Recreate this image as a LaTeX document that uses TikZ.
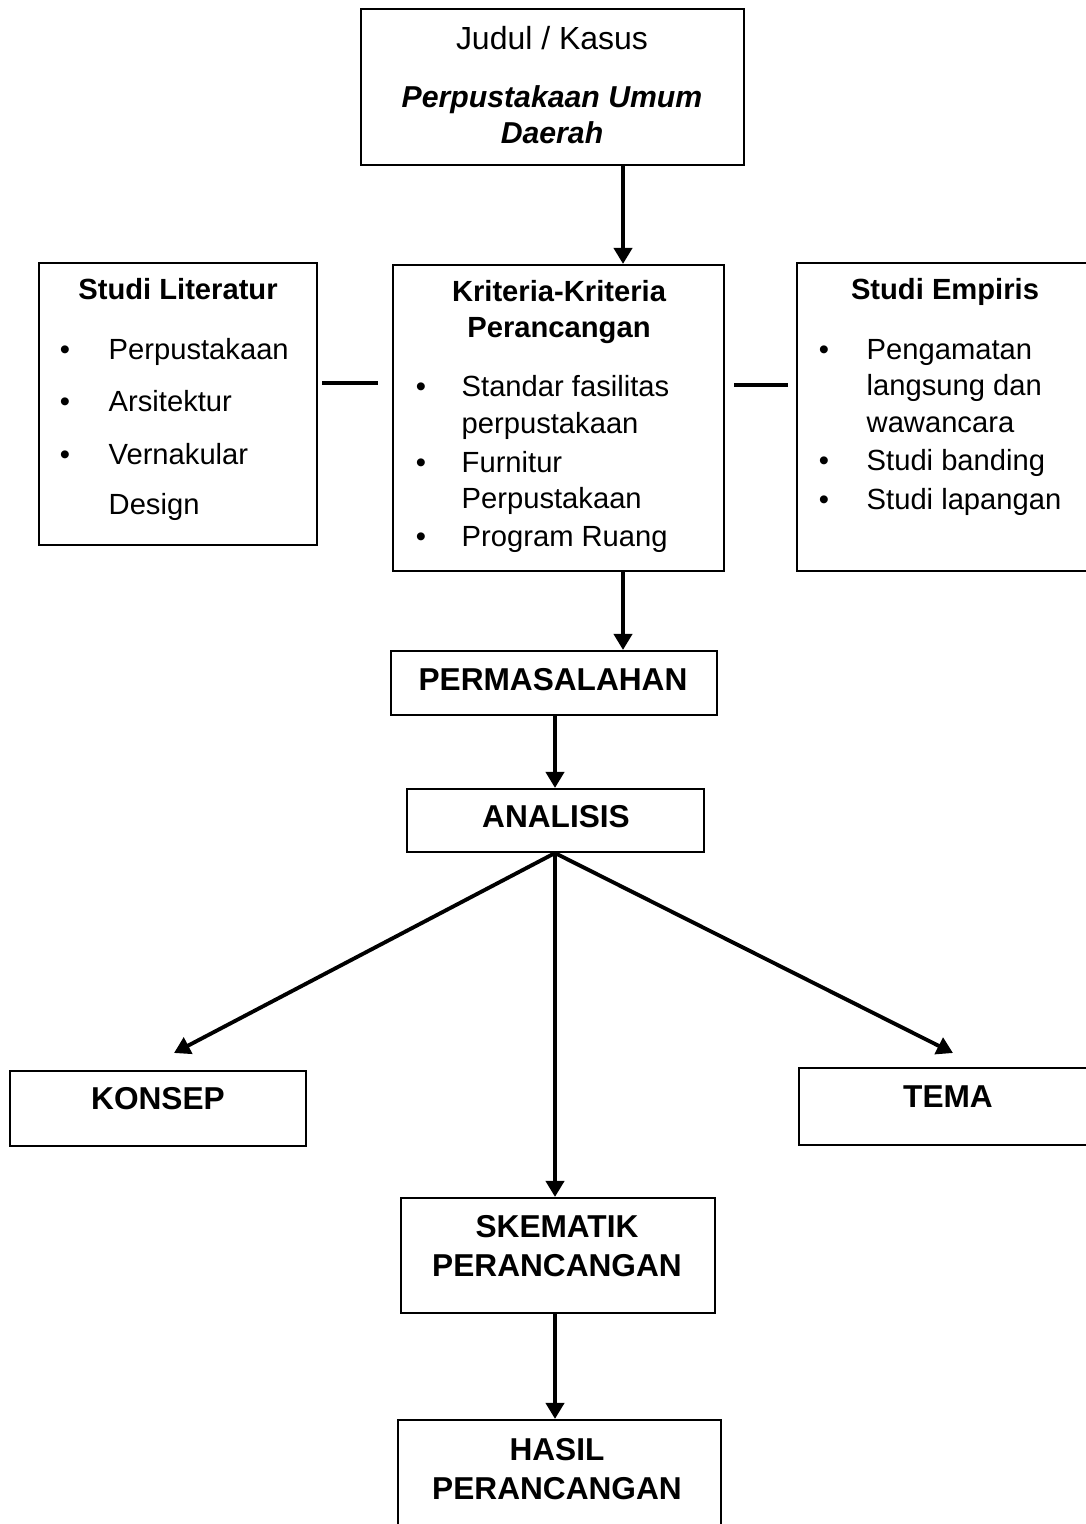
\documentclass[tikz,border=0pt]{standalone}
\usepackage{fontspec}
\setmainfont{Liberation Sans}
\usetikzlibrary{arrows.meta,calc}

\tikzset{
	kotak/.style={draw=black, line width=0.6pt, inner sep=0pt},
	teks/.style={font=\fontsize{8.3}{10}\selectfont, inner sep=0pt},
	subjudul/.style={font=\fontsize{8.3}{10}\selectfont\bfseries, inner sep=0pt},
	judulteks/.style={font=\fontsize{9}{11}\selectfont\bfseries, inner sep=0pt},
	panah/.style={line width=1.1pt, -{Triangle[length=1.6mm, width=1.8mm]}},
	garis/.style={line width=1.1pt}
}

\begin{document}
\begin{tikzpicture}
			\useasboundingbox (0,0) rectangle (10.86,-15.24);
			\clip (0,0) rectangle (10.86,-15.24);
			
			\node[kotak, minimum width=3.83cm, minimum height=1.56cm] (judul) at (5.525,-0.87) {};
			\node[teks, font=\fontsize{9.1}{11}\selectfont, anchor=mid] (judul1) at (5.52,-0.40) {Judul / Kasus};
			\node[subjudul, font=\fontsize{8.6}{10}\selectfont\bfseries\itshape, anchor=mid] (judul2) at (5.52,-0.98) {Perpustakaan Umum};
			\node[subjudul, font=\fontsize{8.6}{10}\selectfont\bfseries\itshape, anchor=mid] (judul3) at (5.52,-1.34) {Daerah};
			
			\node[kotak, minimum width=2.78cm, minimum height=2.82cm] (lit) at (1.78,-4.04) {};
			\node[subjudul, anchor=mid] (lit0) at (1.78,-2.90) {Studi Literatur};
			\node[teks, anchor=mid] (litb1) at (0.65,-3.50) {\textbullet};
			\node[teks, anchor=mid west] (lit1) at (1.08,-3.50) {Perpustakaan};
			\node[teks, anchor=mid] (litb2) at (0.65,-4.02) {\textbullet};
			\node[teks, anchor=mid west] (lit2) at (1.08,-4.02) {Arsitektur};
			\node[teks, anchor=mid] (litb3) at (0.65,-4.55) {\textbullet};
			\node[teks, anchor=mid west] (lit3) at (1.08,-4.55) {Vernakular};
			\node[teks, anchor=mid west] (lit4) at (1.08,-5.05) {Design};
			
			\node[kotak, minimum width=3.31cm, minimum height=3.06cm] (krit) at (5.585,-4.18) {};
			\node[subjudul, anchor=mid] (krit0) at (5.59,-2.92) {Kriteria-Kriteria};
			\node[subjudul, anchor=mid] (krit00) at (5.59,-3.28) {Perancangan};
			\node[teks, anchor=mid] (kritb1) at (4.21,-3.87) {\textbullet};
			\node[teks, anchor=mid west] (krit1) at (4.61,-3.87) {Standar fasilitas};
			\node[teks, anchor=mid west] (krit2) at (4.61,-4.24) {perpustakaan};
			\node[teks, anchor=mid] (kritb3) at (4.21,-4.63) {\textbullet};
			\node[teks, anchor=mid west] (krit3) at (4.61,-4.63) {Furnitur};
			\node[teks, anchor=mid west] (krit4) at (4.61,-4.99) {Perpustakaan};
			\node[teks, anchor=mid] (kritb5) at (4.21,-5.37) {\textbullet};
			\node[teks, anchor=mid west] (krit5) at (4.61,-5.37) {Program Ruang};
			
			\node[kotak, minimum width=3.23cm, minimum height=3.08cm] (emp) at (9.585,-4.17) {};
			\node[subjudul, anchor=mid] (emp0) at (9.45,-2.90) {Studi Empiris};
			\node[teks, anchor=mid] (empb1) at (8.24,-3.50) {\textbullet};
			\node[teks, anchor=mid west] (emp1) at (8.66,-3.50) {Pengamatan};
			\node[teks, anchor=mid west] (emp2) at (8.66,-3.86) {langsung dan};
			\node[teks, anchor=mid west] (emp3) at (8.66,-4.23) {wawancara};
			\node[teks, anchor=mid] (empb4) at (8.24,-4.61) {\textbullet};
			\node[teks, anchor=mid west] (emp4) at (8.66,-4.61) {Studi banding};
			\node[teks, anchor=mid] (empb5) at (8.24,-5.00) {\textbullet};
			\node[teks, anchor=mid west] (emp5) at (8.66,-5.00) {Studi lapangan};
			
			\node[kotak, minimum width=3.26cm, minimum height=0.64cm] (masalah) at (5.54,-6.83) {};
			\node[judulteks, anchor=mid] (masalah1) at (5.53,-6.81) {PERMASALAHAN};
			
			\node[kotak, minimum width=2.97cm, minimum height=0.63cm] (analisis) at (5.555,-8.205) {};
			\node[judulteks, anchor=mid] (analisis1) at (5.56,-8.18) {ANALISIS};
			
			\node[kotak, minimum width=2.96cm, minimum height=0.75cm] (konsep) at (1.58,-11.085) {};
			\node[judulteks, anchor=mid] (konsep1) at (1.58,-11.00) {KONSEP};
			
			\node[kotak, minimum width=3.21cm, minimum height=0.77cm] (tema) at (9.595,-11.065) {};
			\node[judulteks, anchor=mid] (tema1) at (9.48,-10.98) {TEMA};
			
			\node[kotak, minimum width=3.14cm, minimum height=1.15cm] (skematik) at (5.58,-12.555) {};
			\node[judulteks, anchor=mid] (skematik1) at (5.57,-12.28) {SKEMATIK};
			\node[judulteks, anchor=mid] (skematik2) at (5.57,-12.67) {PERANCANGAN};
			
			\node[kotak, minimum width=3.23cm, minimum height=1.40cm] (hasil) at (5.595,-14.90) {};
			\node[judulteks, anchor=mid] (hasil1) at (5.57,-14.51) {HASIL};
			\node[judulteks, anchor=mid] (hasil2) at (5.57,-14.90) {PERANCANGAN};
			
			\coordinate (jalur1) at (6.23,0);
			\coordinate (jalur2) at (5.55,0);
			\coordinate (hubkiri1) at (3.22,-3.83);
			\coordinate (hubkiri2) at (3.78,-3.83);
			\coordinate (hubkanan1) at (7.34,-3.85);
			\coordinate (hubkanan2) at (7.88,-3.85);
			\coordinate (ujungkonsep) at (1.74,-10.53);
			\coordinate (ujungtema) at (9.53,-10.53);
			
			\draw[panah] (judul.south -| jalur1) -- (krit.north -| jalur1);
			\draw[panah] (krit.south -| jalur1) -- (masalah.north -| jalur1);
			\draw[garis] (hubkiri1) -- (hubkiri2);
			\draw[garis] (hubkanan1) -- (hubkanan2);
			\draw[panah] (masalah.south -| jalur2) -- (analisis.north -| jalur2);
			\draw[panah] (analisis.south -| jalur2) -- (ujungkonsep);
			\draw[panah] (analisis.south -| jalur2) -- (ujungtema);
			\draw[panah] (analisis.south -| jalur2) -- (skematik.north -| jalur2);
			\draw[panah] (skematik.south -| jalur2) -- (hasil.north -| jalur2);
		\end{tikzpicture}
\end{document}
